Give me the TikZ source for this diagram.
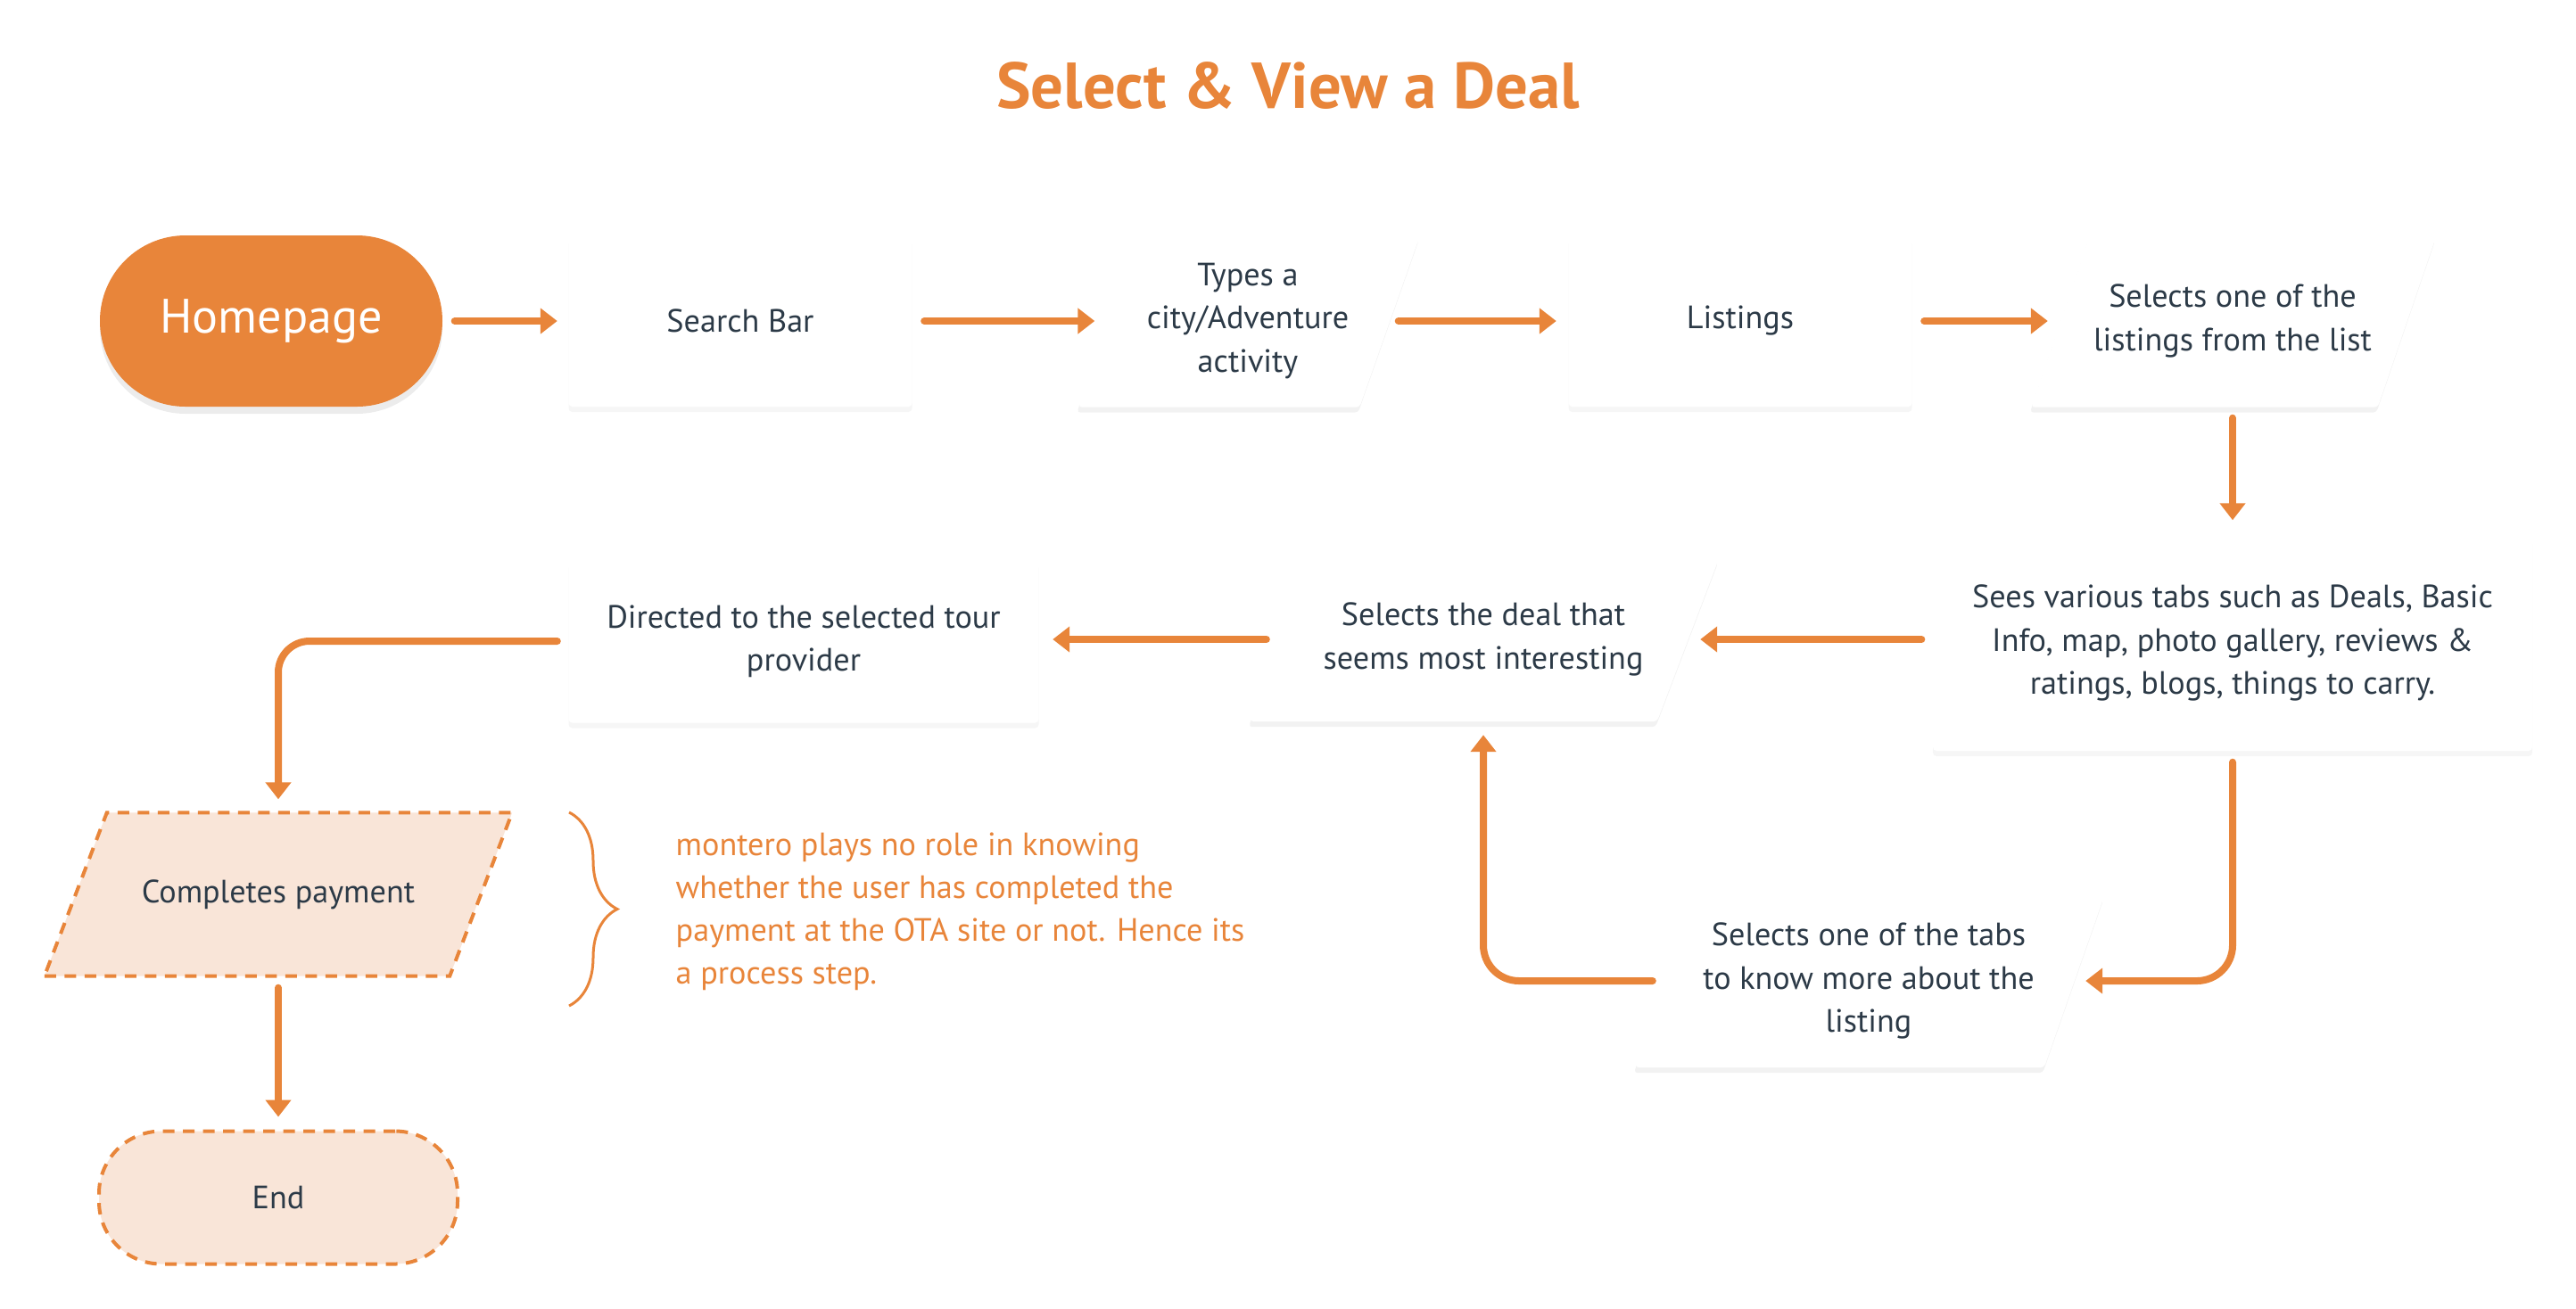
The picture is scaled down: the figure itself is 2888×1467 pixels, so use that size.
\documentclass[tikz,border=0pt]{standalone}
\usepackage{fontspec}
\setmainfont{PT Sans}
\usetikzlibrary{arrows.meta,calc,decorations.pathreplacing,backgrounds,shadows}
\definecolor{org}{HTML}{E8853A}
\definecolor{lightorg}{HTML}{F9E5D8}
\definecolor{ink}{HTML}{2C3A47}
\newcommand\paracard[2]{%
 \fill[black,opacity=0.05,rounded corners=0.4mm] ([yshift=-0.6mm]#1.south west) -- ($([yshift=-0.6mm]#1.south east)-(#2,0)$) -- ([yshift=-0.6mm]#1.north east) -- ($([yshift=-0.6mm]#1.north west)+(#2,0)$) -- cycle;
 \fill[white,rounded corners=0.4mm] ([xshift=0.15mm]#1.south west) -- ($([xshift=0.15mm]#1.south east)-(#2,0)$) -- ([xshift=0.15mm]#1.north east) -- ($([xshift=0.15mm]#1.north west)+(#2,0)$) -- cycle;}
\begin{document}
\begin{tikzpicture}[x=0.1mm,y=-0.1mm,
  txt/.style={font=\fontsize{10.3pt}{13.7pt}\selectfont, text=ink, align=center, inner sep=0pt},
  card/.style={txt, fill=white, rounded corners=0.4mm, drop shadow={opacity=0.07, shadow xshift=0mm, shadow yshift=-0.6mm}},
  flow/.style={draw=org, line width=0.8mm, line cap=round, -{Triangle[length=1.9mm,width=2.8mm]}},
  dashline/.style={draw=org, line width=0.4mm, dash pattern=on 1.3mm off 0.95mm}]
\useasboundingbox (0,0) rectangle (2888,1467);

\node[anchor=base, font=\fontsize{20.7pt}{24pt}\selectfont\bfseries, text=org, inner sep=0pt] (title) at (1444,121) {Select \& View a Deal};

\node[fill=org, text=white, font=\fontsize{15.4pt}{18pt}\selectfont, rounded corners=9.6mm, minimum width=38.4mm, minimum height=19.2mm, inner sep=0pt, drop shadow={opacity=0.15, shadow xshift=0mm, shadow yshift=-0.8mm}] (home) at (304,360) {Homepage};
\node[card, minimum width=38.5mm, minimum height=19.2mm] (search) at (830,360) {Search Bar};
\node[txt, minimum width=38.2mm, minimum height=19.2mm] (types) at (1399,360) {Types a\\city/Adventure\\activity};
\node[card, minimum width=38.5mm, minimum height=19.2mm] (listings) at (1951,360) {Listings};
\node[txt, minimum width=45.3mm, minimum height=19.2mm] (sellist) at (2503,360) {Selects one of the\\listings from the list};
\node[card, minimum width=67.2mm, minimum height=24.2mm] (sees) at (2503,721) {Sees various tabs such as Deals, Basic\\Info, map, photo gallery, reviews \&\\ratings, blogs, things to carry.};
\node[txt, minimum width=52.5mm, minimum height=18.3mm] (deal) at (1663,717) {Selects the deal that\\seems most interesting};
\node[card, minimum width=52.7mm, minimum height=18.3mm] (directed) at (901,719) {Directed to the selected tour\\provider};
\node[txt, minimum width=52.5mm, minimum height=19.3mm] (tabs) at (2095,1100) {Selects one of the tabs\\to know more about the\\listing};
\node[txt, minimum width=52.3mm, minimum height=18.2mm] (pay) at (312,1003) {Completes payment};
\node[txt, dashline, fill=lightorg, rounded corners=7mm, minimum width=40.2mm, minimum height=14.9mm] (end) at (312,1343) {End};

\node[txt, text=org, align=left, anchor=west] (note) at (757,1022) {montero plays no role in knowing\\whether the user has completed the\\payment at the OTA site or not. Hence its\\a process step.};

\begin{scope}[on background layer]
 \paracard{types}{68}
 \paracard{sellist}{66}
 \paracard{deal}{70}
 \paracard{tabs}{68}
 \filldraw[dashline, fill=lightorg] (pay.south west) -- ($(pay.south east)-(70,0)$) -- (pay.north east) -- ($(pay.north west)+(70,0)$) -- cycle;
\end{scope}

\draw[flow, shorten <=1.3mm, shorten >=1.2mm] (home.east) -- (search.west);
\draw[flow, shorten <=1.3mm, shorten >=-2mm] (search.east) -- (types.west);
\draw[flow, shorten <=-2.3mm, shorten >=1.3mm] (types.east) -- (listings.west);
\draw[flow, shorten <=1.3mm, shorten >=-2mm] (listings.east) -- (sellist.west);
\draw[flow, shorten <=1.2mm, shorten >=1.6mm] (sellist.south) -- (sees.north);
\draw[flow, shorten <=1.2mm, shorten >=-2mm] (sees.west |- deal.east) -- (deal.east);
\draw[flow, shorten <=-2mm, shorten >=1.5mm] (deal.west) -- (deal.west -| directed.east);
\draw[flow, rounded corners=3.5mm, shorten <=1.2mm, shorten >=1.5mm] (directed.west) -| (pay.north);
\draw[flow, shorten <=1.3mm, shorten >=1.4mm] (pay.south) -- (end.north);
\draw[flow, rounded corners=4mm, shorten <=1.2mm, shorten >=-2mm] (sees.south) |- (tabs.east);
\draw[flow, rounded corners=4mm, shorten <=-2.1mm, shorten >=1.5mm] (tabs.west) -| (deal.south);

\coordinate (btop) at (638,911);
\coordinate (bbot) at (638,1128);
\draw[org, line width=0.3mm, decorate, decoration={brace, amplitude=5.4mm}] (btop) -- (bbot);
\end{tikzpicture}
\end{document}
